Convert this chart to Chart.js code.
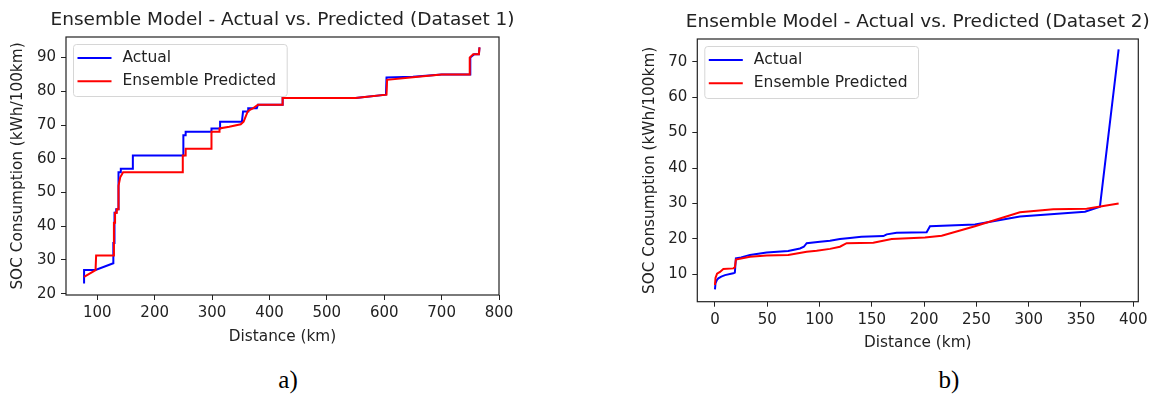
<!DOCTYPE html>
<html>
<head>
    <meta charset="utf-8" />
    <title>Ensemble Model - Actual vs. Predicted</title>
    <style>
        body {
            margin: 0;
            background: #ffffff;
            width: 1155px;
            height: 397px;
            position: relative;
            overflow: hidden;
        }

        .panel {
            position: absolute;
            top: 0;
        }

        .caption {
            position: absolute;
            font-family: "Liberation Serif", "Times New Roman", serif;
            font-size: 25px;
            color: #000;
            transform: translate(-50%, -50%);
        }
    </style>
</head>
<body>
    <div class="panel" style="left:0px;">
        <canvas id="chart1" width="530" height="360"></canvas>
    </div>
    <div class="panel" style="left:590px;">
        <canvas id="chart2" width="565" height="360"></canvas>
    </div>
    <div class="caption" style="left:288px; top:380px;">a)</div>
    <div class="caption" style="left:949px; top:380px;">b)</div>

    <script src="https://cdn.jsdelivr.net/npm/chart.js"></script>
    <script>
        // Dataset 1
        const dist1Actual = [77, 77, 97, 128, 128, 130, 130, 133, 133, 137, 137, 141, 141, 162, 162, 250, 250, 254, 254, 299, 299, 314, 314, 352, 354, 363, 363, 378, 380, 423, 423, 550, 603, 604, 650, 700, 750, 750, 757, 765, 766];
        const soc1Actual  = [23, 27, 27, 29, 35, 35, 44, 44, 45, 45, 56, 56, 57, 57, 61, 61, 67, 67, 68, 68, 69, 69, 71, 71, 74, 74, 75, 75, 76, 76, 78, 78, 79, 84.1, 84.3, 85, 85, 90, 91, 91, 93];
        const dist1Pred = [77, 97, 98, 128, 129, 131, 131, 134, 134, 137, 137, 140, 145, 249, 249, 254, 254, 299, 299, 313, 313, 330, 350, 355, 362, 366, 372, 380, 423, 423, 550, 604, 605, 650, 700, 749, 749, 755, 765, 766];
        const soc1Pred  = [25, 27, 31.3, 31.3, 41, 41, 44, 44, 45, 45, 52, 54.5, 56, 56, 61, 61, 63, 63, 68, 68, 69, 69.5, 70.2, 71, 74, 74.5, 75, 76, 76, 78, 78, 79, 83.4, 84.2, 85, 85, 90, 91, 91, 93];
        const xTicks1 = [100, 200, 300, 400, 500, 600, 700, 800];
        const yTicks1 = [20, 30, 40, 50, 60, 70, 80, 90];

        // Dataset 2
        const dist2Actual = [0, 0.5, 2, 3.2, 6, 9.6, 17.5, 19, 20, 25, 33.5, 49.4, 70, 81.3, 85, 87.7, 100.4, 110, 119.5, 129.1, 140, 161, 164.2, 173.7, 202.4, 205.6, 248.6, 291.6, 353.8, 368.1, 386];
        const soc2Actual  = [5.8, 7.5, 8.5, 8.9, 9.4, 9.8, 10.3, 10.5, 14.5, 14.8, 15.5, 16.2, 16.6, 17.3, 17.8, 18.8, 19.2, 19.5, 20, 20.3, 20.6, 20.8, 21.3, 21.75, 21.9, 23.6, 24.1, 26.3, 27.7, 29.1, 73.5];
        const dist2Pred = [0, 0.5, 2, 4.8, 8, 17.5, 19, 20, 33.5, 49.4, 70, 87.7, 97.2, 110, 119.5, 125.9, 151.4, 169, 200.8, 216.8, 248.6, 291.6, 323.5, 355.4, 386];
        const soc2Pred  = [7, 9, 10.2, 10.7, 11.5, 11.7, 12, 14.2, 15, 15.3, 15.5, 16.4, 16.7, 17.2, 17.8, 18.8, 18.95, 20, 20.4, 20.9, 23.6, 27.5, 28.35, 28.5, 30];
        const xTicks2 = [0, 50, 100, 150, 200, 250, 300, 350, 400];
        const yTicks2 = [10, 20, 30, 40, 50, 60, 70];

        const seriesLabels = ['Actual', 'Ensemble Predicted'];
        const ink = '#222222';
        const titleSize = 18.5, labelSize = 15.3, tickSize = 15, legendSize = 15.5;

        Chart.defaults.font.family = '"DejaVu Sans", sans-serif';
        Chart.defaults.color = ink;

        function toPoints(xs, ys) {
            return xs.map((x, i) => ({ x: x, y: ys[i] }));
        }

        // title over the plot, axes frame, and matplotlib style legend inside the plot
        const frameAndLegend = {
            id: 'frameAndLegend',
            afterDatasetsDraw(chart, args, opts) {
                const ctx = chart.ctx;
                const a = chart.chartArea;
                ctx.save();
                ctx.strokeStyle = ink;
                ctx.lineWidth = 1.2;
                ctx.strokeRect(a.left, a.top, a.right - a.left, a.bottom - a.top);

                // the title is wider than the plot, so it is drawn here without a max width
                ctx.font = titleSize + 'px "DejaVu Sans"';
                ctx.fillStyle = ink;
                ctx.textAlign = 'center';
                ctx.textBaseline = 'middle';
                ctx.fillText(opts.text, (a.left + a.right) / 2, opts.y);

                ctx.font = legendSize + 'px "DejaVu Sans"';
                const sets = chart.data.datasets;
                const textW = Math.max(...sets.map(d => ctx.measureText(d.label).width));
                const x0 = a.left + 7.5, y0 = a.top + 7.5;
                const w = 49 + textW + 11, h = 52;
                ctx.beginPath();
                ctx.roundRect(x0, y0, w, h, 3);
                ctx.fillStyle = 'rgba(255,255,255,0.8)';
                ctx.fill();
                ctx.strokeStyle = '#d6d6d6';
                ctx.lineWidth = 1;
                ctx.stroke();

                sets.forEach((d, i) => {
                    const y = y0 + 13.5 + i * 23.3;
                    ctx.beginPath();
                    ctx.moveTo(x0 + 4, y);
                    ctx.lineTo(x0 + 38, y);
                    ctx.strokeStyle = d.borderColor;
                    ctx.lineWidth = 2;
                    ctx.stroke();
                    ctx.fillStyle = ink;
                    ctx.textBaseline = 'middle';
                    ctx.textAlign = 'left';
                    ctx.fillText(d.label, x0 + 49, y);
                });
                ctx.restore();
            }
        };

        function makeChart(id, cfg) {
            const ctx = document.getElementById(id).getContext('2d');
            const labelLine = labelSize * 1.2;
            return new Chart(ctx, {
                type: 'line',
                data: {
                    datasets: [{
                        label: seriesLabels[0],
                        data: toPoints(cfg.xa, cfg.ya),
                        borderColor: 'blue',
                        borderWidth: 2,
                        pointRadius: 0,
                        tension: 0,
                        order: 1
                    }, {
                        label: seriesLabels[1],
                        data: toPoints(cfg.xp, cfg.yp),
                        borderColor: 'red',
                        borderWidth: 2,
                        pointRadius: 0,
                        tension: 0,
                        order: 0
                    }]
                },
                options: {
                    responsive: false,
                    animation: false,
                    layout: { padding: { left: 0, top: cfg.plotTop, right: cfg.padRight, bottom: 0 } },
                    plugins: {
                        legend: { display: false },
                        tooltip: { enabled: false },
                        title: { display: false },
                        frameAndLegend: { text: cfg.title, y: cfg.titleY }
                    },
                    scales: {
                        x: {
                            type: 'linear',
                            min: cfg.xMin,
                            max: cfg.xMax,
                            border: { display: false },
                            grid: { drawOnChartArea: false, tickLength: 5, tickColor: ink },
                            ticks: { font: { size: tickSize }, padding: 4.5, maxRotation: 0 },
                            afterBuildTicks: s => { s.ticks = cfg.xTicks.map(v => ({ value: v })); },
                            afterFit: s => { s.height = 360 - cfg.plotBottom; },
                            title: {
                                display: true,
                                text: 'Distance (km)',
                                font: { size: labelSize },
                                padding: { top: 0, bottom: 360 - cfg.xTitleY - labelLine / 2 }
                            }
                        },
                        y: {
                            type: 'linear',
                            min: cfg.yMin,
                            max: cfg.yMax,
                            border: { display: false },
                            grid: { drawOnChartArea: false, tickLength: 5, tickColor: ink },
                            ticks: { font: { size: tickSize }, padding: 5 },
                            afterBuildTicks: s => { s.ticks = cfg.yTicks.map(v => ({ value: v })); },
                            afterFit: s => { s.width = cfg.plotLeft; },
                            title: {
                                display: true,
                                text: 'SOC Consumption (kWh/100km)',
                                font: { size: labelSize },
                                padding: { top: cfg.yTitleX - labelLine / 2, bottom: 0 }
                            }
                        }
                    }
                },
                plugins: [frameAndLegend]
            });
        }

        makeChart('chart1', {
            title: 'Ensemble Model - Actual vs. Predicted (Dataset 1)',
            xa: dist1Actual, ya: soc1Actual, xp: dist1Pred, yp: soc1Pred,
            xTicks: xTicks1, yTicks: yTicks1,
            xMin: 45.5, xMax: 800, yMin: 19.6, yMax: 96.1,
            plotLeft: 66, plotTop: 37, plotBottom: 295, padRight: 31,
            titleY: 20, yTitleX: 18.3, xTitleY: 336.7
        });

        makeChart('chart2', {
            title: 'Ensemble Model - Actual vs. Predicted (Dataset 2)',
            xa: dist2Actual, ya: soc2Actual, xp: dist2Pred, yp: soc2Pred,
            xTicks: xTicks2, yTicks: yTicks2,
            xMin: -16.9, xMax: 404.8, yMin: 2.3, yMax: 76.4,
            plotLeft: 107.3, plotTop: 39, plotBottom: 301.7, padRight: 16.7,
            titleY: 21.7, yTitleX: 60, xTitleY: 343.4
        });
    </script>
</body>
</html>
